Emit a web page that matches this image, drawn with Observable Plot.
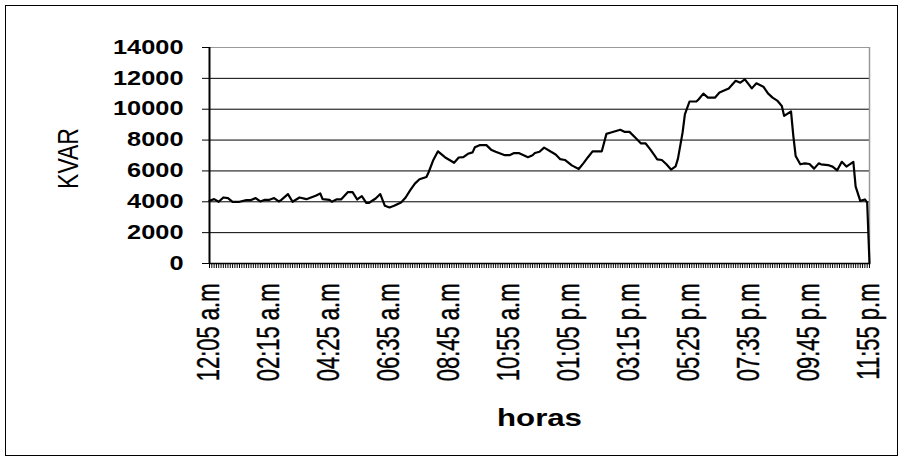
<!DOCTYPE html>
<html>
<head>
<meta charset="utf-8">
<script src="https://cdn.jsdelivr.net/npm/d3@7"></script>
<script src="https://cdn.jsdelivr.net/npm/@observablehq/plot@0.6"></script>
<style>
  html, body { margin: 0; padding: 0; background: #fff; }
  #grafico { position: relative; width: 905px; height: 462px; }
  #grafico .marco { position: absolute; left: 5px; top: 5px; width: 891px; height: 449px; border: 1px solid #000; pointer-events: none; }
</style>
</head>
<body>
<div id="grafico"><div class="marco"></div></div>
<script>
// Lecturas de potencia reactiva a lo largo del día (hora 24 h, kVAR)
const horas = [
  "00:05","00:15","00:25","00:35","00:45","00:55","01:10","01:25","01:35","01:45","01:55",
  "02:05","02:15","02:25","02:35","02:40","02:55","03:05","03:20","03:35","03:45","03:55",
  "04:05","04:10","04:25","04:30","04:40","04:50","05:05","05:15","05:25","05:35","05:45",
  "05:50","06:05","06:15","06:25","06:35","06:45","07:00","07:10","07:20","07:30","07:40",
  "07:55","08:00","08:10","08:20","08:35","08:55","09:05","09:15","09:25","09:35","09:40",
  "09:50","10:05","10:15","10:25","10:45","10:55","11:05","11:15","11:35","11:45","11:50",
  "12:00","12:10","12:25","12:35","12:45","12:55","13:10","13:25","13:35","13:45","13:55",
  "14:15","14:25","14:35","14:55","15:05","15:15","15:30","15:40","15:50","16:00","16:10",
  "16:15","16:25","16:35","16:45","16:55","17:00","17:10","17:15","17:25","17:40","17:45",
  "17:55","18:05","18:20","18:30","18:50","19:05","19:15","19:25","19:35","19:40","19:50",
  "20:05","20:15","20:25","20:35","20:45","20:50","21:05","21:10","21:15","21:25","21:35",
  "21:45","21:55","22:05","22:10","22:25","22:35","22:45","22:55","23:05","23:20","23:25",
  "23:35","23:45","23:50","23:55"
];
const kvar = [
  4070,4170,4000,4280,4240,4000,4000,4110,4110,4240,4020,
  4130,4130,4240,4020,4110,4500,4000,4280,4170,4280,4390,
  4540,4170,4130,4000,4150,4150,4630,4630,4150,4370,3920,
  3920,4210,4500,3740,3630,3740,3960,4280,4750,5180,5460,
  5610,5930,6710,7270,6890,6530,6870,6890,7110,7200,7530,
  7670,7670,7380,7240,7020,7020,7160,7160,6890,7020,7160,
  7240,7510,7240,7070,6760,6710,6360,6130,6490,6890,7270,
  7270,8400,8490,8670,8530,8530,8090,7780,7780,7400,6970,
  6750,6710,6430,6090,6300,6800,8480,9670,10500,10500,10650,
  11010,10750,10750,11080,11340,11840,11720,11930,11540,11350,11680,
  11460,11030,10750,10560,10210,9570,9850,8260,6970,6430,6490,
  6450,6150,6490,6430,6380,6280,6040,6590,6280,6590,4980,
  4060,4150,3940,0
];
// Rótulos del eje de categorías (uno cada 2 h 10 min)
const etiquetas = [
  "12:05 a.m","02:15 a.m","04:25 a.m","06:35 a.m","08:45 a.m","10:55 a.m",
  "01:05 p.m","03:15 p.m","05:25 p.m","07:35 p.m","09:45 p.m","11:55 p.m"
];
const marcasY = [0, 2000, 4000, 6000, 8000, 10000, 12000, 14000];

// Minutos desde la medianoche
const aMinutos = (s) => { const [h, m] = s.split(":").map(Number); return h * 60 + m; };
const etiquetaAMinutos = (s) => {
  const [hm, suf] = s.split(" ");
  let [h, m] = hm.split(":").map(Number);
  h = h % 12 + (suf.startsWith("p") ? 12 : 0);
  return h * 60 + m;
};

const datos = horas.map((h, i) => ({min: aMinutos(h), kvar: kvar[i]}));
const posEtiquetas = etiquetas.map(etiquetaAMinutos);
const rotulo = new Map(posEtiquetas.map((p, i) => [p, etiquetas[i]]));
const inicio = d3.min(posEtiquetas), fin = d3.max(posEtiquetas);
const marcasCategoria = d3.range(inicio, fin + 1, 5);

const fuente = "'Liberation Sans', Arial, sans-serif";

const grafico = Plot.plot({
  width: 905,
  height: 462,
  marginLeft: 209,
  marginRight: 36,
  marginTop: 47,
  marginBottom: 199,
  style: {fontFamily: fuente, fontSize: "19px", color: "#000", background: "#fff", overflow: "visible"},
  x: {type: "linear", domain: [inicio, fin]},
  y: {domain: [0, 14000]},
  marks: [
    Plot.ruleY(marcasY.filter(v => v > 0 && v < 14000), {stroke: "#000", strokeWidth: 1}),
    Plot.ruleY([14000], {stroke: "#999", strokeWidth: 1.2}),
    Plot.ruleX([fin], {stroke: "#999", strokeWidth: 1.5}),
    Plot.line(datos, {x: "min", y: "kvar", stroke: "#000", strokeWidth: 2.2}),
    Plot.ruleX([inicio], {stroke: "#000", strokeWidth: 2}),
    Plot.ruleY([0], {stroke: "#000", strokeWidth: 1.5}),
    Plot.axisY(marcasY, {
      tickSize: 7, tickPadding: 19, fontWeight: "bold", fontSize: 19.5,
      tickFormat: d => String(d), label: null, stroke: "#000"
    }),
    Plot.axisX(marcasCategoria, {tickSize: 5, tickFormat: () => "", label: null, stroke: "#000"}),
    Plot.axisX(posEtiquetas, {
      tickSize: 0, tickPadding: 20, tickRotate: -90, fontSize: 22,
      tickFormat: d => rotulo.get(d), label: null, textStroke: "#000", textStrokeWidth: 0.3
    }),
    Plot.text(["horas"], {frameAnchor: "bottom", dy: 162, fontWeight: "bold", fontSize: 24, text: d => d}),
    Plot.text(["KVAR"], {frameAnchor: "left", textAnchor: "middle", dx: -141, dy: 3, rotate: -90, fontSize: 23, text: d => d})
  ]
});

// Las letras del gráfico original son más anchas que altas: se estiran en horizontal
// (un poco más los rótulos girados de las horas)
d3.select(grafico).selectAll("text").each(function () {
  const t = this.getAttribute("transform");
  if (!t) return;
  const m = t.match(/^(translate\([^)]*\))(.*)$/);
  if (!m) return;
  const girado = /rotate/.test(m[2]) && this.textContent.includes(".m");
  const factor = girado ? 1.4 : 1.3;
  this.setAttribute("transform", `${m[1]} scale(${factor},1)${m[2]}`);
});

document.getElementById("grafico").appendChild(grafico);
</script>
</body>
</html>
